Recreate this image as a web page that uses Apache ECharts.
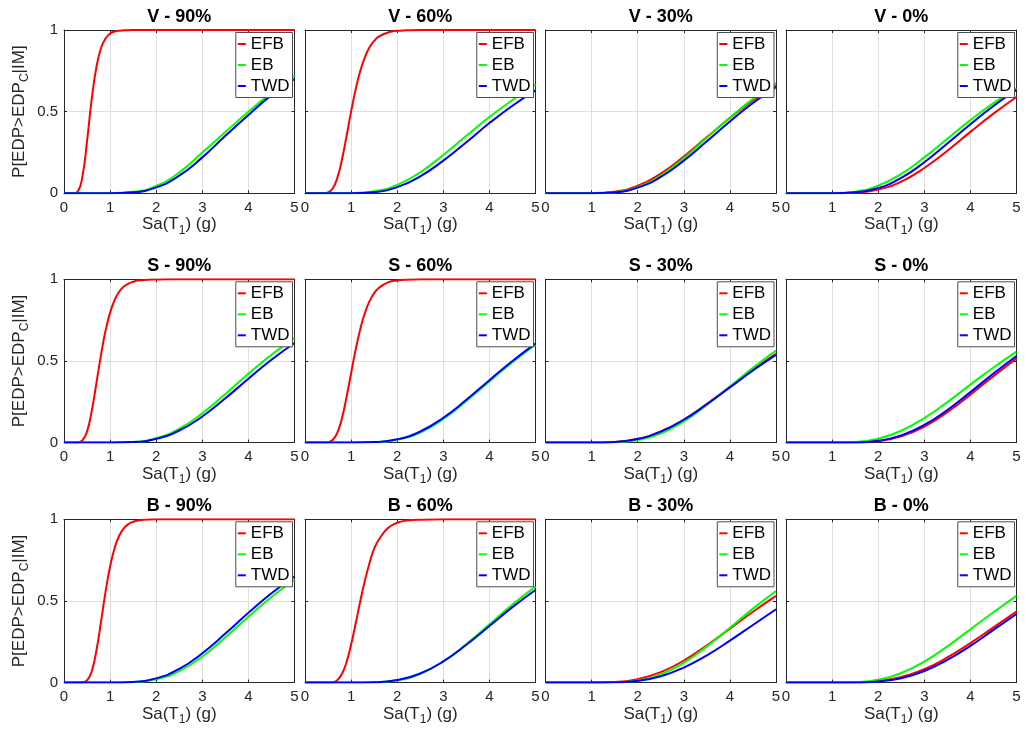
<!DOCTYPE html>
<html>
<head>
<meta charset="utf-8">
<script src="https://cdn.jsdelivr.net/npm/echarts@6/dist/echarts.min.js"></script>
<style>
  html, body { margin: 0; padding: 0; background: #fff; }
  #chart { width: 1029px; height: 730px; }
</style>
</head>
<body>
<div id="chart"></div>
<script>
// Sa(T1) sample points (g): a fine grid for the steep curves, a coarse one for the gradual ones
const SA_FINE = [0, 0.2, 0.3, 0.4, 0.5, 0.6, 0.7, 0.8, 0.9, 1.0, 1.1, 1.2, 1.3, 1.4, 1.5, 1.6, 1.8, 2.0, 2.2, 2.5, 3, 4, 5];
const SA_COARSE = [0, 0.5, 1, 1.5, 2, 2.5, 3, 3.5, 4, 4.5, 5];

// Fragility curves P[EDP>EDPc|IM]
const V90_EFB = [0, 0, 0.011, 0.103, 0.32, 0.573, 0.768, 0.887, 0.948, 0.978, 0.991, 0.996, 0.998, 0.999, 1, 1, 1, 1, 1, 1, 1, 1, 1];
const V90_EB  = [0, 0, 0, 0.009, 0.045, 0.128, 0.25, 0.375, 0.50, 0.615, 0.72];
const V90_TWD = [0, 0, 0, 0.006, 0.036, 0.108, 0.22, 0.352, 0.48, 0.601, 0.70];

const V60_EFB = [0, 0, 0, 0, 0.005, 0.029, 0.093, 0.204, 0.348, 0.5, 0.638, 0.75, 0.834, 0.894, 0.933, 0.959, 0.985, 0.995, 0.998, 1, 1, 1, 1];
const V60_EB  = [0, 0, 0.001, 0.012, 0.052, 0.129, 0.235, 0.352, 0.467, 0.571, 0.665];
const V60_TWD = [0, 0, 0, 0.007, 0.038, 0.104, 0.20, 0.313, 0.43, 0.536, 0.63];

const V30_EFB = [0, 0, 0.001, 0.010, 0.046, 0.121, 0.225, 0.344, 0.461, 0.568, 0.66];
const V30_EB  = [0, 0, 0, 0.007, 0.038, 0.109, 0.215, 0.34, 0.464, 0.578, 0.675];
const V30_TWD = [0, 0, 0, 0.006, 0.035, 0.10, 0.20, 0.319, 0.44, 0.553, 0.65];

const V0_EFB = [0, 0, 0, 0.004, 0.023, 0.072, 0.155, 0.261, 0.376, 0.488, 0.59];
const V0_EB  = [0, 0, 0.001, 0.010, 0.047, 0.119, 0.22, 0.334, 0.448, 0.552, 0.643];
const V0_TWD = [0, 0, 0, 0.006, 0.032, 0.094, 0.19, 0.305, 0.423, 0.535, 0.633];

const S90_EFB = [0, 0, 0.001, 0.013, 0.069, 0.191, 0.359, 0.533, 0.683, 0.796, 0.874, 0.925, 0.956, 0.974, 0.985, 0.992, 0.997, 0.999, 1, 1, 1, 1, 1];
const S90_EB  = [0, 0, 0, 0.004, 0.027, 0.085, 0.18, 0.298, 0.421, 0.538, 0.64];
const S90_TWD = [0, 0, 0, 0.003, 0.023, 0.074, 0.16, 0.271, 0.391, 0.507, 0.61];

const S60_EFB = [0, 0, 0, 0, 0.002, 0.016, 0.06, 0.147, 0.277, 0.425, 0.571, 0.696, 0.795, 0.866, 0.915, 0.947, 0.981, 0.993, 0.998, 1, 1, 1, 1];
const S60_EB  = [0, 0, 0, 0.002, 0.017, 0.062, 0.145, 0.255, 0.375, 0.493, 0.60];
const S60_TWD = [0, 0, 0, 0.003, 0.020, 0.068, 0.152, 0.262, 0.382, 0.50, 0.606];

const S30_EFB = [0, 0, 0, 0.004, 0.023, 0.068, 0.141, 0.237, 0.342, 0.447, 0.543];
const S30_EB  = [0, 0, 0, 0.002, 0.016, 0.056, 0.13, 0.231, 0.344, 0.458, 0.563];
const S30_TWD = [0, 0, 0, 0.004, 0.022, 0.067, 0.14, 0.235, 0.338, 0.442, 0.537];

const S0_EFB = [0, 0, 0, 0.001, 0.009, 0.038, 0.098, 0.187, 0.294, 0.407, 0.516];
const S0_EB  = [0, 0, 0, 0.004, 0.024, 0.073, 0.15, 0.248, 0.355, 0.46, 0.557];
const S0_TWD = [0, 0, 0, 0.001, 0.011, 0.044, 0.108, 0.20, 0.309, 0.423, 0.53];

const B90_EFB = [0, 0, 0, 0.001, 0.013, 0.068, 0.192, 0.367, 0.554, 0.711, 0.826, 0.901, 0.946, 0.971, 0.985, 0.993, 0.998, 1, 1, 1, 1, 1, 1];
const B90_EB  = [0, 0, 0, 0.003, 0.020, 0.071, 0.16, 0.277, 0.403, 0.524, 0.63];
const B90_TWD = [0, 0, 0, 0.004, 0.026, 0.084, 0.18, 0.30, 0.427, 0.547, 0.65];

const B60_EFB = [0, 0, 0, 0, 0, 0.003, 0.015, 0.053, 0.125, 0.233, 0.363, 0.5, 0.626, 0.732, 0.82, 0.875, 0.947, 0.979, 0.992, 0.998, 1, 1, 1];
const B60_EB  = [0, 0, 0, 0.002, 0.014, 0.054, 0.13, 0.236, 0.357, 0.478, 0.588];
const B60_TWD = [0, 0, 0, 0.002, 0.016, 0.056, 0.13, 0.232, 0.346, 0.462, 0.567];

const B30_EFB = [0, 0, 0, 0.003, 0.021, 0.064, 0.135, 0.228, 0.33, 0.434, 0.531];
const B30_EB  = [0, 0, 0, 0.002, 0.013, 0.051, 0.122, 0.222, 0.336, 0.453, 0.561];
const B30_TWD = [0, 0, 0, 0.002, 0.011, 0.039, 0.092, 0.167, 0.257, 0.353, 0.449];

const B0_EFB = [0, 0, 0, 0.001, 0.009, 0.034, 0.082, 0.154, 0.242, 0.338, 0.435];
const B0_EB  = [0, 0, 0, 0.003, 0.018, 0.059, 0.129, 0.222, 0.326, 0.431, 0.531];
const B0_TWD = [0, 0, 0, 0.001, 0.007, 0.027, 0.071, 0.139, 0.225, 0.323, 0.42];

const SERIES_NAMES = ['EFB', 'EB', 'TWD'];
const SERIES_COLORS = ['#ff0000', '#00ff00', '#0000ff'];
const X_RANGE = [0, 5];
const X_STEP = 1;
const Y_RANGE = [0, 1];
const Y_STEP = 0.5;

// One entry per subplot, row by row
const PANELS = [
  { title: 'V - 90%', x: [SA_FINE, SA_COARSE, SA_COARSE], y: [V90_EFB, V90_EB, V90_TWD] },
  { title: 'V - 60%', x: [SA_FINE, SA_COARSE, SA_COARSE], y: [V60_EFB, V60_EB, V60_TWD] },
  { title: 'V - 30%', x: [SA_COARSE, SA_COARSE, SA_COARSE], y: [V30_EFB, V30_EB, V30_TWD] },
  { title: 'V - 0%',  x: [SA_COARSE, SA_COARSE, SA_COARSE], y: [V0_EFB, V0_EB, V0_TWD] },
  { title: 'S - 90%', x: [SA_FINE, SA_COARSE, SA_COARSE], y: [S90_EFB, S90_EB, S90_TWD] },
  { title: 'S - 60%', x: [SA_FINE, SA_COARSE, SA_COARSE], y: [S60_EFB, S60_EB, S60_TWD] },
  { title: 'S - 30%', x: [SA_COARSE, SA_COARSE, SA_COARSE], y: [S30_EFB, S30_EB, S30_TWD] },
  { title: 'S - 0%',  x: [SA_COARSE, SA_COARSE, SA_COARSE], y: [S0_EFB, S0_EB, S0_TWD] },
  { title: 'B - 90%', x: [SA_FINE, SA_COARSE, SA_COARSE], y: [B90_EFB, B90_EB, B90_TWD] },
  { title: 'B - 60%', x: [SA_FINE, SA_COARSE, SA_COARSE], y: [B60_EFB, B60_EB, B60_TWD] },
  { title: 'B - 30%', x: [SA_COARSE, SA_COARSE, SA_COARSE], y: [B30_EFB, B30_EB, B30_TWD] },
  { title: 'B - 0%',  x: [SA_COARSE, SA_COARSE, SA_COARSE], y: [B0_EFB, B0_EB, B0_TWD] }
];

// Layout of the 3 x 4 subplot grid (pixels)
const COL_LEFT = [64, 305, 545.5, 786];
const ROW_TOP = [30, 279.3, 519.3];
const PLOT_W = 230.5;
const PLOT_H = 163.3;
const CHART_W = 1029;

const FONT = '"Liberation Sans", Arial, Helvetica, sans-serif';
const INK = '#262626';
const GRID_LINE = '#dfdfdf';

const axisLine = { show: true, onZero: false, lineStyle: { color: INK, width: 1 } };
const axisTick = { show: true, inside: true, length: 3, lineStyle: { color: INK, width: 1 } };
const splitLine = { show: true, lineStyle: { color: GRID_LINE, width: 1 } };

const option = {
  animation: false,
  backgroundColor: '#ffffff',
  grid: [],
  xAxis: [],
  yAxis: [],
  legend: [],
  series: [],
  graphic: []
};

PANELS.forEach((panel, i) => {
  const row = Math.floor(i / 4);
  const col = i % 4;
  const left = COL_LEFT[col];
  const top = ROW_TOP[row];

  option.grid.push({ left: left, top: top, width: PLOT_W, height: PLOT_H, outerBoundsMode: 'none', containLabel: false });

  // bottom x axis with labels, plus a mirrored top axis for the box ticks
  option.xAxis.push({
    gridIndex: i, type: 'value', min: X_RANGE[0], max: X_RANGE[1], interval: X_STEP,
    position: 'bottom', axisLine: axisLine, axisTick: axisTick, splitLine: splitLine,
    axisLabel: { show: true, fontSize: 15, color: INK, fontFamily: FONT, margin: 7, hideOverlap: false },
    name: '{n|Sa(T}{s|1}{n|) (g)}',
    nameLocation: 'middle',
    nameGap: 17,
    nameTextStyle: {
      color: INK,
      rich: {
        n: { fontSize: 17, lineHeight: 24, fontFamily: FONT, color: INK },
        s: { fontSize: 12, lineHeight: 12, fontFamily: FONT, color: INK, verticalAlign: 'bottom' }
      }
    }
  });
  option.xAxis.push({
    gridIndex: i, type: 'value', min: X_RANGE[0], max: X_RANGE[1], interval: X_STEP,
    position: 'top', axisLine: axisLine, axisTick: axisTick,
    splitLine: { show: false }, axisLabel: { show: false }
  });

  const yMain = {
    gridIndex: i, type: 'value', min: Y_RANGE[0], max: Y_RANGE[1], interval: Y_STEP,
    position: 'left', axisLine: axisLine, axisTick: axisTick, splitLine: splitLine,
    axisLabel: { show: col === 0, fontSize: 15, color: INK, fontFamily: FONT, margin: 6 }
  };
  if (col === 0) {
    Object.assign(yMain, {
      name: '{n|P[EDP>EDP}{s|C}{n||IM]}',
      nameLocation: 'middle',
      nameRotate: 90,
      nameGap: 33,
      nameTextStyle: {
        color: INK,
        rich: {
          n: { fontSize: 17, lineHeight: 24, fontFamily: FONT, color: INK },
          s: { fontSize: 12, lineHeight: 12, fontFamily: FONT, color: INK, verticalAlign: 'bottom' }
        }
      }
    });
  }
  option.yAxis.push(yMain);
  option.yAxis.push({
    gridIndex: i, type: 'value', min: Y_RANGE[0], max: Y_RANGE[1], interval: Y_STEP,
    position: 'right', axisLine: axisLine, axisTick: axisTick,
    splitLine: { show: false }, axisLabel: { show: false }
  });

  SERIES_NAMES.forEach((name, k) => {
    const xs = panel.x[k];
    const ys = panel.y[k];
    option.series.push({
      name: name,
      type: 'line',
      xAxisIndex: 2 * i,
      yAxisIndex: 2 * i,
      data: xs.map((x, j) => [x, ys[j]]),
      symbol: 'none',
      smooth: 0.5,
      silent: true,
      z: 2 + k * 0.01,
      lineStyle: { color: SERIES_COLORS[k], width: 2 },
      itemStyle: { color: SERIES_COLORS[k] }
    });
  });

  // legend box in the upper right corner of each subplot
  option.legend.push({
    data: SERIES_NAMES,
    orient: 'vertical',
    right: CHART_W - (left + PLOT_W) + 2,
    top: top + 2.5,
    padding: [2, 3, 2, 2],
    itemGap: 2,
    itemWidth: 8,
    itemHeight: 2,
    icon: 'rect',
    selectedMode: false,
    backgroundColor: '#ffffff',
    borderColor: '#4d4d4d',
    borderWidth: 1,
    borderRadius: 0,
    textStyle: { fontSize: 17, lineHeight: 19, color: '#000000', fontFamily: FONT }
  });

  // subplot title
  option.graphic.push({
    type: 'text',
    x: left + PLOT_W / 2,
    y: top - 13,
    silent: true,
    style: {
      text: panel.title,
      fill: '#000000',
      font: 'bold 18px ' + FONT,
      textAlign: 'center',
      textVerticalAlign: 'middle'
    }
  });
});

const chart = echarts.init(document.getElementById('chart'), null, { renderer: 'canvas' });
chart.setOption(option);
</script>
</body>
</html>
